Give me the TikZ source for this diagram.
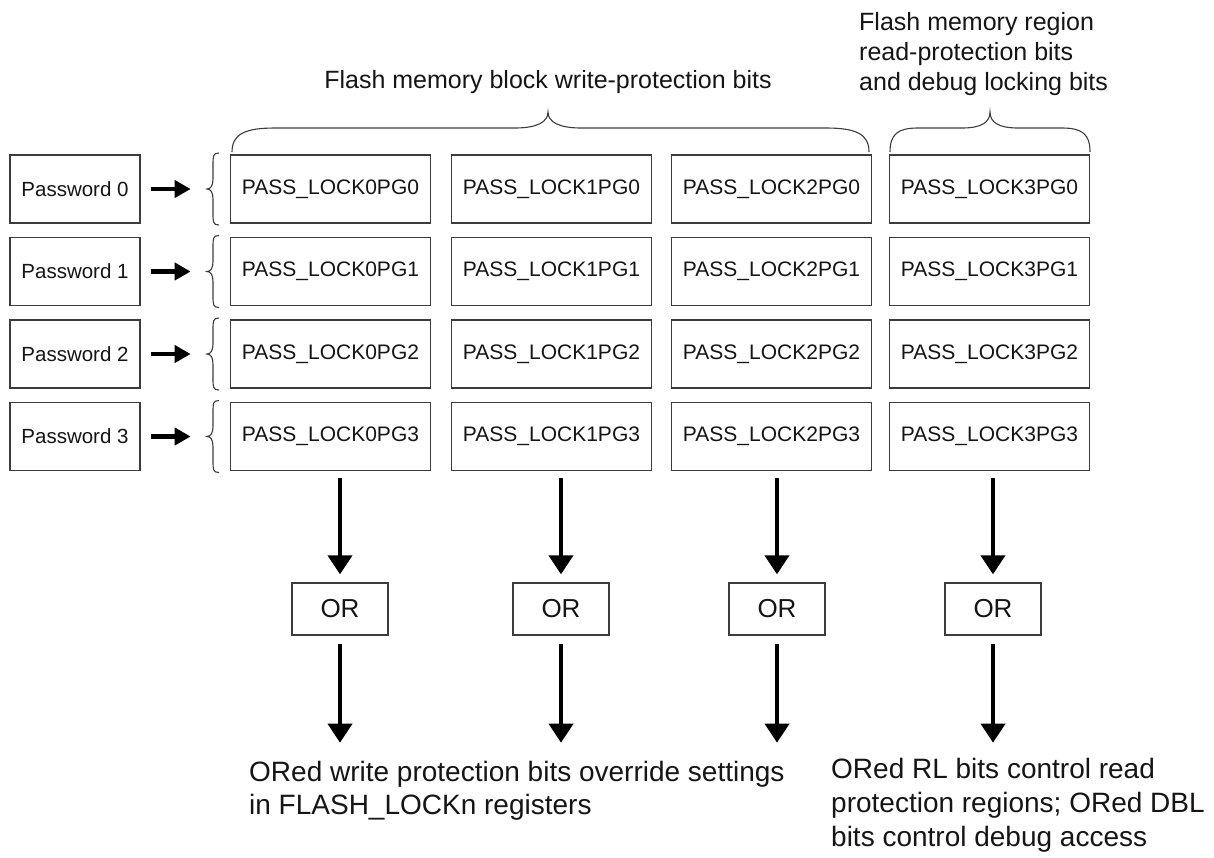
\documentclass[tikz,border=0pt]{standalone}
\usepackage{fontspec}
\setmainfont{Liberation Sans}
\usetikzlibrary{arrows.meta,calc}
\definecolor{boxgray}{HTML}{3C3C3C}
\definecolor{txt}{HTML}{151515}
\begin{document}
\begin{tikzpicture}[x=1pt,y=-1pt,
  pwbox/.style={draw=boxgray, line width=1.3pt, minimum width=130pt, minimum height=68pt, inner sep=0pt, text=txt, font=\fontsize{20.5}{24}\selectfont},
  lockbox/.style={draw=boxgray, line width=1.3pt, minimum width=200pt, minimum height=68pt, inner sep=0pt, text=txt, font=\fontsize{21}{24}\selectfont},
  orbox/.style={draw=boxgray, line width=1.3pt, minimum width=96pt, minimum height=52pt, inner sep=0pt, text=txt, font=\fontsize{26}{30}\selectfont},
  label/.style={inner sep=0pt, text=txt, align=left},
  parrow/.style={line width=4.5pt, -{Triangle[width=17pt,length=16pt]}, black},
  darrow/.style={line width=4pt, -{Triangle[width=24pt,length=19pt]}, black},
  bracestyle/.style={draw=boxgray, line width=1.1pt},
  sbrace/.pic={\draw[bracestyle] (6,-36) .. controls (0,-36) and (0,-33) .. (0,-24) -- (0,-10) .. controls (0,-4) and (-2,0) .. (-6,0) .. controls (-2,0) and (0,4) .. (0,10) -- (0,24) .. controls (0,33) and (0,36) .. (6,36);}
]
\useasboundingbox (0,0) rectangle (1214,857);

% password boxes and lock boxes
\foreach \r/\y in {0/189,1/271.5,2/354,3/436.5}{
  \node[pwbox] (pw\r) at (75,\y) {Password \r};
  \node[lockbox] (l0\r) at (330.5,\y) {PASS\_LOCK0PG\r};
  \node[lockbox] (l1\r) at (551.5,\y) {PASS\_LOCK1PG\r};
  \node[lockbox] (l2\r) at (771.5,\y) {PASS\_LOCK2PG\r};
  \node[lockbox] (l3\r) at (989.5,\y) {PASS\_LOCK3PG\r};
  \draw[parrow] ([xshift=10pt]pw\r.east) -- ([xshift=50pt]pw\r.east);
  \pic at (213,\y) {sbrace};
}

% big braces
\draw[bracestyle] (232,152) .. controls (232,134) and (245,128) .. (275,128) -- (515,128) .. controls (537,128) and (548,122) .. (548,112) .. controls (548,122) and (559,128) .. (581,128) -- (826,128) .. controls (856,128) and (869,134) .. (869,152);
\draw[bracestyle] (890,152) .. controls (890,134) and (898,128) .. (918,128) -- (962,128) .. controls (982,128) and (990,122) .. (990,112) .. controls (990,122) and (998,128) .. (1018,128) -- (1062,128) .. controls (1082,128) and (1090,134) .. (1090,152);

\node[label, anchor=north, font=\fontsize{25}{30}\selectfont] (t1) at (548,70) {Flash memory block write-protection bits};
\node[label, anchor=north west, font=\fontsize{25}{30}\selectfont] (t2) at (859,12) {Flash memory region\\read-protection bits\\and debug locking bits};

% OR boxes
\node[orbox] (or0) at (340,609) {OR};
\node[orbox] (or1) at (561,609) {OR};
\node[orbox] (or2) at (777,609) {OR};
\node[orbox] (or3) at (993,609) {OR};

\foreach \c in {0,1,2,3}{
  \coordinate (e\c) at ($(or\c.south)+(0,107)$);
  \draw[darrow] ($(l\c3.south -| or\c.north)+(0,7)$) -- ($(or\c.north)+(0,-8)$);
  \draw[darrow] ($(or\c.south)+(0,8)$) -- (e\c);
}

\node[label, anchor=north west, font=\fontsize{28}{33}\selectfont] (b1) at (249,761) {ORed write protection bits override settings\\in FLASH\_LOCKn registers};
\node[label, anchor=north west, font=\fontsize{28}{34}\selectfont] (b2) at (831,758) {ORed RL bits control read\\protection regions; ORed DBL\\bits control debug access};
\end{tikzpicture}
\end{document}
